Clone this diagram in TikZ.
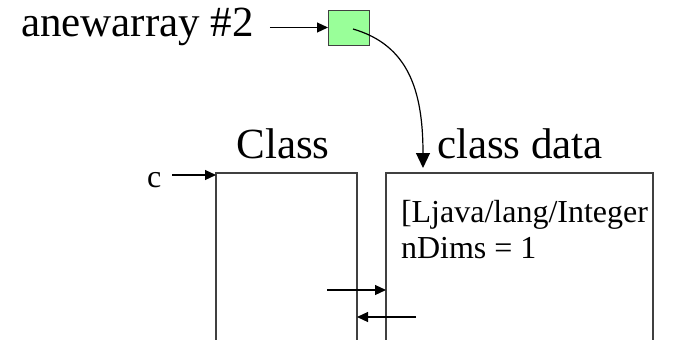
\documentclass[tikz,border=0pt]{standalone}
\usepackage{fontspec}
\setmainfont{Liberation Serif}
\usetikzlibrary{arrows.meta, positioning, calc}

\definecolor{refgreen}{HTML}{99FF99}
\definecolor{boxgray}{HTML}{404040}

\begin{document}
\begin{tikzpicture}[
    x=1pt, y=-1pt,
    % --- Global styles ---
    every node/.style={inner sep=0pt, outer sep=0pt},
    big/.style={font=\fontsize{43}{50}\selectfont},
    small/.style={font=\fontsize{32}{36}\selectfont},
    % --- Boxes ---
    refbox/.style={draw=boxgray, fill=refgreen, line width=1pt,
                   minimum width=41pt, minimum height=35pt},
    area/.style={draw=boxgray, line width=1.3pt},
    % --- Arrow styles ---
    ptr/.style={-{Triangle[length=11pt,width=10pt]}, line width=1.2pt},
    bigptr/.style={-{Triangle[length=15pt,width=14pt]}, line width=1.2pt},
  ]
  \useasboundingbox (0,0) rectangle (673,340);

  %% ---- Nodes ----

  % Instruction and its operand
  \node[big, anchor=base west] (op) at (21,37) {anewarray \#2};
  \node[refbox] (ref) at (348.5,27.5) {};

  % Class object and its class data (cut off at the bottom)
  \node[area, minimum width=141pt, minimum height=180pt,
        anchor=north west] (cls) at (216,173) {};
  \node[area, minimum width=267pt, minimum height=180pt,
        anchor=north west] (clsdata) at (386,173) {};

  % Titles
  \node[big, anchor=base] (clstitle) at (283,158) {Class};
  \node[big, anchor=base west] (datatitle) at (437,158) {class data};

  % Contents of class data
  \node[small, anchor=base west] (name) at (401,222) {[Ljava/lang/Integer};
  \node[small, anchor=base west] (dims) at (401,258) {nDims = 1};

  % Reference c
  \node[small, anchor=base west] (c) at (147,187) {c};

  %% ---- Free ends ----
  \coordinate (cstart) at (172,175);
  \coordinate (refstart) at (353,29);
  \coordinate (dataend) at (423,168);
  \coordinate (fwd) at (327,290);
  \coordinate (back) at (416,317);

  %% ---- Arrows ----
  \draw[ptr] ([xshift=16pt]op.east |- ref.west) -- (ref.west);
  \draw[bigptr] (refstart) .. controls (408,45) and (423,90) .. (dataend);
  \draw[ptr] (cstart) -- (cstart -| cls.west);
  \draw[ptr] (fwd) -- (fwd -| clsdata.west);
  \draw[ptr] (back) -- (back -| cls.east);

\end{tikzpicture}
\end{document}
